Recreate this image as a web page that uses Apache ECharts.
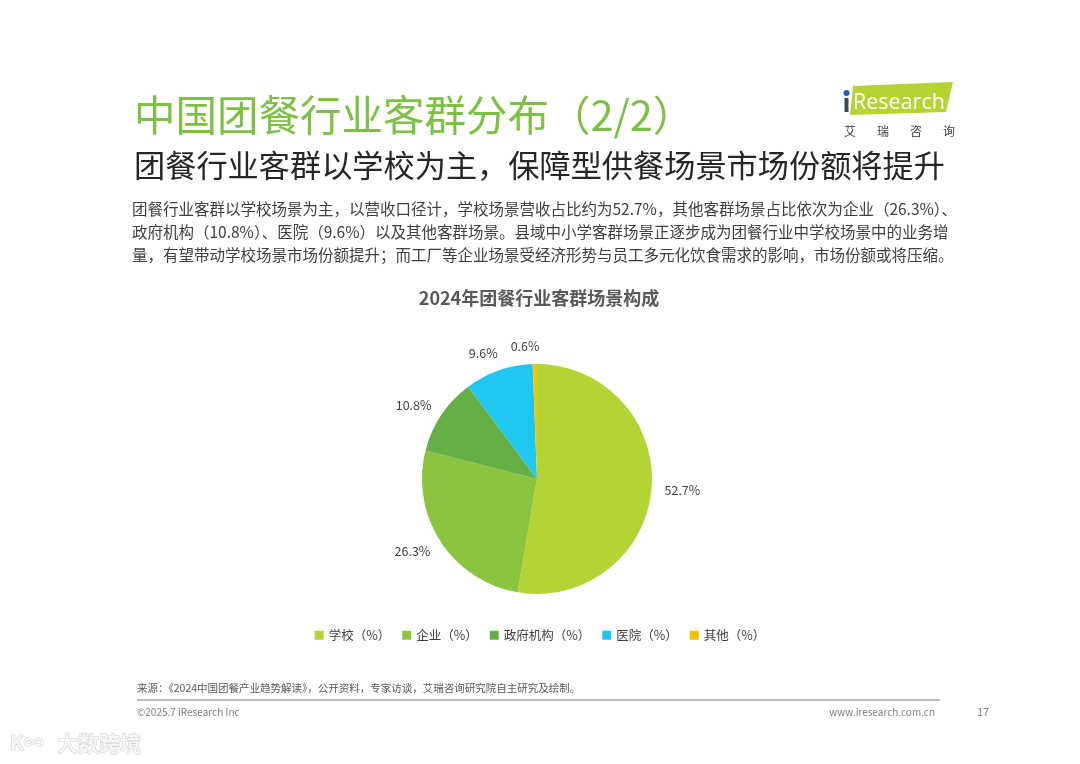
<!DOCTYPE html>
<html>
<head>
<meta charset="utf-8">
<style>
html,body{margin:0;padding:0;background:#fff;}
#chart{width:1080px;height:764px;}
</style>
<script src="https://cdn.jsdelivr.net/npm/echarts@6/dist/echarts.min.js"></script>
</head>
<body>
<div id="chart"></div>
<script>
var categories = ['学校（%）', '企业（%）', '政府机构（%）', '医院（%）', '其他（%）'];
var values = [52.7, 26.3, 10.8, 9.6, 0.6];
var colors = ['#B4D335', '#8BC43F', '#66AE46', '#1FC6F0', '#F5C400'];

var titleText = '中国团餐行业客群分布（2/2）';
var subTitleText = '团餐行业客群以学校为主，保障型供餐场景市场份额将提升';
var paraLines = [
  '团餐行业客群以学校场景为主，以营收口径计，学校场景营收占比约为52.7%，其他客群场景占比依次为企业（26.3%）、',
  '政府机构（10.8%）、医院（9.6%）以及其他客群场景。县域中小学客群场景正逐步成为团餐行业中学校场景中的业务增',
  '量，有望带动学校场景市场份额提升；而工厂等企业场景受经济形势与员工多元化饮食需求的影响，市场份额或将压缩。'
];
var chartTitle = '2024年团餐行业客群场景构成';
var sourceText = '来源：《2024中国团餐产业趋势解读》，公开资料，专家访谈，艾瑞咨询研究院自主研究及绘制。';
var copyText = '©2025.7 iResearch Inc';
var siteText = 'www.iresearch.com.cn';
var pageNo = '17';
var logoChars = ['艾', '瑞', '咨', '询'];

var FF = '"Noto Sans CJK SC", "Noto Sans", sans-serif';

function txt(text, x, y, size, color, opts) {
  opts = opts || {};
  var st = {
    text: text, x: x, y: y,
    fontSize: size, fontFamily: opts.family || FF,
    fontWeight: opts.weight || 'normal',
    fill: color,
    align: opts.align || 'left', textAlign: opts.align || 'left',
    verticalAlign: 'middle', textVerticalAlign: 'middle'
  };
  if (opts.stroke) { st.stroke = opts.stroke; st.lineWidth = opts.lineWidth || 1; }
  return { type: 'text', silent: true, style: st, z: opts.z || 10 };
}

var graphics = [];
graphics.push(txt(titleText, 134, 115, 41.5, '#7DC143'));
graphics.push(txt(subTitleText, 134, 165, 31.2, '#262626'));
paraLines.forEach(function (l, i) {
  graphics.push(txt(l, 132, 209 + i * 23, 15.5, '#404040'));
});
graphics.push(txt(chartTitle, 539, 298, 18, '#595959', {weight: 'bold', align: 'center'}));
graphics.push(txt(sourceText, 137, 688, 10.5, '#595959'));
graphics.push({type: 'line', silent: true, shape: {x1: 137, y1: 700, x2: 940, y2: 700}, style: {stroke: '#A6A6A6', lineWidth: 1.5}});
graphics.push(txt(copyText, 137, 712, 10, '#7F7F7F'));
graphics.push(txt(siteText, 935, 712, 10, '#7F7F7F', {align: 'right'}));
graphics.push(txt(pageNo, 983, 712, 11, '#7F7F7F', {align: 'center'}));

// logo
graphics.push({type: 'polygon', silent: true, shape: {points: [[853, 86], [953, 82], [946, 112], [850, 115]]}, style: {fill: '#B6D334'}});
graphics.push({type: 'circle', silent: true, shape: {cx: 846.5, cy: 93, r: 3}, style: {fill: '#1E5FB4'}});
graphics.push({type: 'rect', silent: true, shape: {x: 844.5, y: 98, width: 4, height: 14}, style: {fill: '#3A4A5A'}});
graphics.push(txt('Research', 853, 103, 21.5, '#FFFFFF', {family: '"Open Sans", "Noto Sans", sans-serif'}));
logoChars.forEach(function (c, i) {
  graphics.push(txt(c, 850 + i * 33, 131, 12, '#404040', {align: 'center'}));
});

// watermark
graphics.push(txt('K∞', 10, 742, 20, '#F6F6F6', {weight: 'bold', stroke: '#CFCFCF'}));
graphics.push(txt('大数跨境', 57, 743, 21, '#F6F6F6', {weight: 'bold', stroke: '#CFCFCF'}));

var pieData = categories.map(function (c, i) { return {name: c, value: values[i]}; });

var chart = echarts.init(document.getElementById('chart'), null, {renderer: 'canvas'});
chart.setOption({
  backgroundColor: '#ffffff',
  animation: false,
  color: colors,
  legend: {
    data: categories,
    top: 624,
    left: 'center',
    icon: 'rect',
    itemWidth: 9,
    itemHeight: 9,
    itemGap: 12,
    textStyle: {fontSize: 12.5, color: '#404040', fontFamily: FF}
  },
  graphic: graphics,
  series: [{
    type: 'pie',
    center: [537, 479],
    radius: [0, 115],
    startAngle: 90,
    clockwise: true,
    avoidLabelOverlap: false,
    data: pieData,
    label: {
      show: true,
      position: 'outside',
      distanceToLabelLine: -5,
      formatter: function (p) { return p.value.toFixed(1) + '%'; },
      fontSize: 12.5,
      color: '#404040',
      fontFamily: FF
    },
    labelLine: {show: false, length: 18, length2: 0},
    itemStyle: {borderWidth: 0}
  }]
});
</script>
</body>
</html>
